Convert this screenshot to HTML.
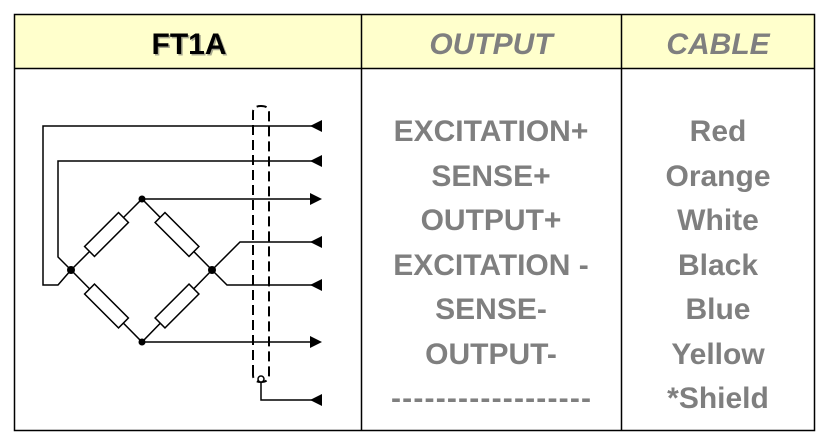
<!DOCTYPE html>
<html><head><meta charset="utf-8"><style>
html,body{margin:0;padding:0;background:#fff;width:817px;height:435px;overflow:hidden}
svg{display:block}
.t{font-family:"Liberation Sans",sans-serif;font-weight:bold;font-size:30px;fill:#7f7f7f;text-anchor:middle}
</style></head><body>
<svg width="817" height="435" viewBox="0 0 817 435" xmlns="http://www.w3.org/2000/svg">
<rect x="14.5" y="14.5" width="800" height="54" fill="#ffffcc"/>
<rect x="14.5" y="14.5" width="800" height="416" fill="none" stroke="#000" stroke-width="1.5"/>
<line x1="14" y1="68.5" x2="815" y2="68.5" stroke="#000" stroke-width="1.5"/>
<line x1="361.5" y1="14" x2="361.5" y2="431" stroke="#000" stroke-width="1.5"/>
<line x1="621.5" y1="14" x2="621.5" y2="431" stroke="#000" stroke-width="1.5"/>
<text x="189" y="54" font-family="Liberation Sans,sans-serif" font-weight="bold" font-size="30" fill="#555" text-anchor="middle" opacity="0.5" transform="translate(1.5,1.5)">FT1A</text>
<text x="189" y="54" font-family="Liberation Sans,sans-serif" font-weight="bold" font-size="30" fill="#000" text-anchor="middle">FT1A</text>
<text x="491" y="54" font-family="Liberation Sans,sans-serif" font-weight="bold" font-style="italic" font-size="30" fill="#7f7f7f" text-anchor="middle">OUTPUT</text>
<text x="718" y="54" font-family="Liberation Sans,sans-serif" font-weight="bold" font-style="italic" font-size="30" fill="#7f7f7f" text-anchor="middle">CABLE</text>

<g class="t">
<text x="491" y="141" class="t">EXCITATION+</text>
<text x="491" y="186" class="t">SENSE+</text>
<text x="491" y="230" class="t">OUTPUT+</text>
<text x="491" y="275" class="t">EXCITATION -</text>
<text x="491" y="319" class="t">SENSE-</text>
<text x="491" y="364" class="t">OUTPUT-</text>
<text x="491" y="408" class="t" textLength="200" lengthAdjust="spacing">------------------</text>
<text x="718" y="141" class="t">Red</text>
<text x="718" y="186" class="t">Orange</text>
<text x="718" y="230" class="t">White</text>
<text x="718" y="275" class="t">Black</text>
<text x="718" y="319" class="t">Blue</text>
<text x="718" y="364" class="t">Yellow</text>
<text x="718" y="408" class="t">*Shield</text>
</g>

<g stroke="#000" stroke-width="1.5" fill="none">
<polyline points="312,126 43,126 43,285 58,285 71,270"/>
<polyline points="312,161 58,161 58,257 71,270"/>
<polyline points="142,199 312,199"/>
<polyline points="212,270 240,242 312,242"/>
<polyline points="212,270 227,285 312,285"/>
<polyline points="142,342 312,342"/>
<polyline points="261,378 261,400 312,400"/>
<polyline points="71,270 142,199 212,270 142,342 71,270"/>
<path d="M253,375 L253,112 Q253,106 261,106 Q269,106 269,112 L269,375 Q269,382 261,382 Q253,382 253,375" stroke-width="2" stroke-dasharray="10,5"/>
</g>
<g fill="#fff" stroke="#000" stroke-width="1.5">
<rect x="-24" y="-7" width="48" height="14" transform="translate(106.5,234.5) rotate(-45)"/>
<rect x="-24" y="-7" width="48" height="14" transform="translate(177,234.5) rotate(45)"/>
<rect x="-24" y="-7" width="48" height="14" transform="translate(106.5,306) rotate(45)"/>
<rect x="-24" y="-7" width="48" height="14" transform="translate(177,306) rotate(-45)"/>
</g>
<g fill="#000">
<circle cx="71" cy="270" r="4"/><circle cx="212" cy="270" r="4"/>
<circle cx="142" cy="199" r="3.5"/><circle cx="142" cy="342" r="3.5"/>
<circle cx="261" cy="379" r="3" fill="#fff" stroke="#000" stroke-width="1.5"/>
<polygon points="310,126 322,120 322,132"/>
<polygon points="310,161 322,155 322,167"/>
<polygon points="322,199 310,193 310,205"/>
<polygon points="310,242 322,236 322,248"/>
<polygon points="310,285 322,279 322,291"/>
<polygon points="322,342 310,336 310,348"/>
<polygon points="310,400 322,394 322,406"/>
</g>
</svg>
</body></html>
